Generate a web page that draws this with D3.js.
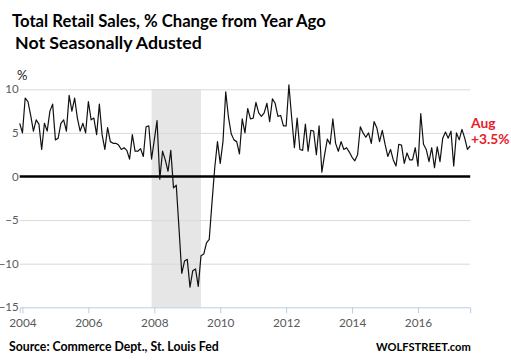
<!DOCTYPE html>
<html lang="en">
<head>
<meta charset="utf-8">
<title>Total Retail Sales</title>
<script src="https://d3js.org/d3.v7.min.js"></script>
<style>
  body { margin: 0; background: #fff; }
  svg { display: block; font-family: Lato, "Open Sans", sans-serif; }
  .grid line { stroke: #d9d9d9; stroke-width: 1; }
  .axis--x path { stroke: #b9cde5; }
  .axis--x line { stroke: #b9cde5; }
  .axis text { fill: #595959; }
</style>
</head>
<body>
<svg width="511" height="363"></svg>
<script>
// monthly % change from year ago, Dec 2003 .. Aug 2017 (not seasonally adjusted)
var startYear = 2003, startMonth = 11;
var pctChange = [
  6.1,
  5.0, 9.0, 8.6, 7.0, 5.2, 6.5, 6.0, 3.1, 6.1, 5.2, 7.5, 8.3,
  4.2, 4.4, 6.1, 6.5, 5.2, 9.3, 7.5, 9.0, 6.7, 5.2, 6.1, 5.0,
  8.6, 6.5, 6.7, 4.8, 8.3, 4.8, 3.1, 5.6, 4.0, 3.8, 3.8, 3.6,
  3.1, 3.3, 3.0, 2.0, 4.8, 2.9, 2.9, 3.2, 2.3, 5.7, 5.8, 2.0,
  4.2, 6.4, -0.3, 2.9, 1.9, 0.6, 3.0, -1.3, -1.0, -6.0, -11.1, -9.7,
  -9.5, -12.7, -10.8, -10.6, -12.6, -9.1, -8.9, -7.6, -7.2, -3.0, 1.0, 4.0,
  1.5, 4.0, 9.7, 6.8, 4.9, 4.2, 4.0, 2.6, 6.6, 5.0, 7.8, 6.6,
  6.7, 8.5, 7.3, 6.9, 7.3, 8.4, 6.3, 8.9, 8.4, 6.9, 7.0, 5.8,
  5.8, 10.5, 6.8, 3.3, 6.7, 3.1, 3.0, 6.0, 2.9, 5.3, 5.2, 2.5,
  5.8, 0.5, 2.5, 4.3, 3.7, 6.6, 3.8, 2.9, 4.0, 3.1, 3.3, 2.8,
  2.2, 1.8, 2.5, 5.7, 5.0, 4.5, 5.0, 3.8, 6.3, 5.6, 4.0, 5.3,
  3.7, 2.3, 3.1, 1.9, 1.2, 3.7, 3.6, 1.5, 2.7, 1.9, 1.9, 3.3,
  1.2, 7.2, 3.7, 3.1, 1.7, 3.3, 1.0, 3.4, 1.7, 4.4, 5.1, 4.4,
  5.2, 1.2, 5.0, 4.2, 5.4, 4.4, 3.1, 3.5
];
var xTicks = [2004, 2006, 2008, 2010, 2012, 2014, 2016];
var yTicks = [-15, -10, -5, 0, 5, 10];
var recession = [2007 + 11 / 12, 2009 + 5 / 12]; // Dec 2007 - Jun 2009
var lastLabel = ["Aug", "+3.5%"];

var values = pctChange.map(function(v, i) {
  return { t: startYear + (startMonth + i) / 12, v: v };
});

var svg = d3.select("svg");
var plotLeft = 19.7, plotRight = 470.2, plotTop = 89.3, plotBottom = 307.3;

var x = d3.scaleLinear()
  .domain([values[0].t, values[values.length - 1].t])
  .range([plotLeft, plotRight]);
var y = d3.scaleLinear().domain([-15, 10]).range([plotBottom, plotTop]);

// fit a text element to a given pixel width
function fit(sel, w) {
  var n = sel.node(), size = parseFloat(sel.attr("font-size"));
  sel.attr("font-size", size * w / n.getComputedTextLength());
  return sel;
}

// recession shade
svg.append("rect")
  .attr("x", x(recession[0]))
  .attr("width", x(recession[1]) - x(recession[0]))
  .attr("y", y(10))
  .attr("height", y(-15) - y(10))
  .attr("fill", "#e6e6e6");

// gridlines + y labels
var gy = svg.append("g")
  .attr("class", "axis grid")
  .attr("transform", "translate(" + plotLeft + ",0)")
  .call(d3.axisLeft(y).tickValues(yTicks).tickSize(-(plotRight - plotLeft)).tickPadding(1));
gy.select(".domain").remove();
gy.selectAll(".tick line").filter(function(d) { return d === 0 || d === -15; }).remove();
gy.selectAll("text").attr("font-size", 11.5).attr("font-family", "Lato");

// x axis
var gx = svg.append("g")
  .attr("class", "axis axis--x")
  .attr("transform", "translate(0," + plotBottom + ")")
  .call(d3.axisBottom(x).tickValues(xTicks).tickFormat(d3.format("d")).tickSizeOuter(0).tickSize(6).tickPadding(5));
gx.selectAll("text").attr("font-size", 11.8).attr("font-family", "Lato");

// zero line
svg.append("line")
  .attr("x1", plotLeft).attr("x2", plotRight)
  .attr("y1", y(0)).attr("y2", y(0))
  .attr("stroke", "#000").attr("stroke-width", 2.5);

// the series
svg.append("path")
  .datum(values)
  .attr("fill", "none")
  .attr("stroke", "#111")
  .attr("stroke-width", 1.2)
  .attr("stroke-linejoin", "round")
  .attr("d", d3.line()
    .x(function(d) { return x(d.t); })
    .y(function(d) { return y(d.v); }));

// texts
fit(svg.append("text").attr("x", 12).attr("y", 27).attr("font-size", 19)
  .attr("font-weight", "bold").attr("fill", "#000")
  .text("Total Retail Sales, % Change from Year Ago"), 314);
fit(svg.append("text").attr("x", 15).attr("y", 48.5).attr("font-size", 17)
  .attr("font-weight", "bold").attr("fill", "#000")
  .text("Not Seasonally Adusted"), 187);
svg.append("text").attr("x", 17).attr("y", 80).attr("font-size", 13)
  .attr("fill", "#222").text("%");

var pct = fit(svg.append("text").attr("x", 471).attr("y", 144).attr("font-size", 13)
  .attr("font-weight", "bold").attr("fill", "#e8202a").text(lastLabel[1]), 38.5);
svg.append("text").attr("x", 471).attr("y", 127.5).attr("font-size", pct.attr("font-size"))
  .attr("font-weight", "bold").attr("fill", "#e8202a").text(lastLabel[0]);

fit(svg.append("text").attr("x", 9).attr("y", 351).attr("font-size", 13)
  .attr("font-weight", "bold").attr("fill", "#000")
  .text("Source: Commerce Dept., St. Louis Fed"), 210);
fit(svg.append("text").attr("x", 376).attr("y", 351).attr("font-size", 13)
  .attr("font-weight", "bold").attr("fill", "#000")
  .text("WOLFSTREET.com"), 95);
</script>
</body>
</html>
